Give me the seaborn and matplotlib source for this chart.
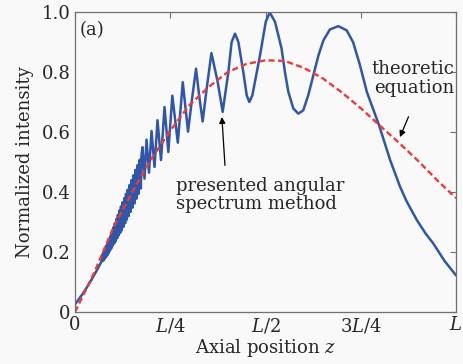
import matplotlib
matplotlib.use('Agg')
import matplotlib.pyplot as plt
import seaborn as sns
import numpy as np

# theoretic equation (red dashed), z in units of L
z_theory = [0, 0.05, 0.1, 0.15, 0.2, 0.25, 0.3, 0.35, 0.4, 0.45, 0.5, 0.55, 0.6, 0.65,
            0.7, 0.75, 0.8, 0.85, 0.9, 0.95, 1.0]
I_theory = [0, 0.13, 0.28, 0.40, 0.51, 0.605, 0.69, 0.75, 0.80, 0.828, 0.84, 0.838, 0.815,
            0.78, 0.733, 0.68, 0.622, 0.565, 0.505, 0.44, 0.38]

# presented angular spectrum method (blue)
z_asm = [0, 0.02, 0.04, 0.06, 0.07,
         0.0718, 0.0736, 0.0754, 0.0772, 0.079, 0.0808, 0.0826, 0.0844, 0.0862, 0.088,
         0.0898, 0.0916, 0.0934, 0.0952, 0.097, 0.0988, 0.1006, 0.1026, 0.1046, 0.1066,
         0.1086, 0.1106, 0.1126, 0.1146, 0.1166, 0.1186, 0.1206, 0.1228, 0.125, 0.1272,
         0.1294, 0.1316, 0.1338, 0.136, 0.1384, 0.1408, 0.1432, 0.1456, 0.148, 0.1506,
         0.1532, 0.1558, 0.1584, 0.1612, 0.164, 0.1668, 0.1698, 0.1728, 0.1745,
         0.1772, 0.1824, 0.1877, 0.1942, 0.2008, 0.2087, 0.2165, 0.2257, 0.2349, 0.2449,
         0.2554, 0.2698, 0.2828, 0.2966, 0.307, 0.3176, 0.326, 0.335, 0.3456, 0.358,
         0.3744, 0.3875, 0.4024, 0.411, 0.42, 0.4287, 0.4418, 0.4506, 0.4575, 0.4654,
         0.4856, 0.5005, 0.511, 0.525, 0.542, 0.551, 0.56, 0.573, 0.586, 0.599, 0.612,
         0.6255, 0.639, 0.652, 0.669, 0.691, 0.713, 0.73, 0.748, 0.766, 0.798, 0.827,
         0.853, 0.87, 0.897, 0.92, 0.94, 0.97, 1.0]
I_asm = [0.025, 0.06, 0.10, 0.145, 0.17,
         0.192, 0.170, 0.200, 0.176, 0.210, 0.182, 0.222, 0.188, 0.232, 0.196,
         0.243, 0.204, 0.254, 0.212, 0.266, 0.221, 0.282, 0.228, 0.296, 0.236,
         0.310, 0.246, 0.324, 0.256, 0.338, 0.264, 0.352, 0.273, 0.366, 0.284,
         0.380, 0.296, 0.394, 0.308, 0.408, 0.320, 0.424, 0.334, 0.440, 0.348,
         0.456, 0.362, 0.474, 0.378, 0.490, 0.394, 0.508, 0.412, 0.525,
         0.550, 0.445, 0.575, 0.465, 0.604, 0.484, 0.640, 0.507, 0.684, 0.534,
         0.722, 0.565, 0.767, 0.602, 0.71, 0.812, 0.72, 0.636, 0.746, 0.864,
         0.768, 0.668, 0.80, 0.901, 0.929, 0.901, 0.80, 0.723, 0.701, 0.723,
         0.857, 0.968, 1.0, 0.968, 0.88, 0.80, 0.734, 0.679, 0.662, 0.673, 0.723,
         0.79, 0.857, 0.907, 0.943, 0.954, 0.94, 0.90, 0.823, 0.734, 0.623, 0.507,
         0.418, 0.37, 0.307, 0.262, 0.229, 0.17, 0.122]

x_ticks = [0, 0.25, 0.5, 0.75, 1.0]
x_ticklabels = ['0', '$L$/4', '$L$/2', '3$L$/4', '$L$']
y_ticks = [0, 0.2, 0.4, 0.6, 0.8, 1.0]
y_ticklabels = ['0', '0.2', '0.4', '0.6', '0.8', '1.0']

sns.set_style('white')
plt.rcParams['font.family'] = ['DejaVu Serif']
plt.rcParams['mathtext.fontset'] = 'dejavuserif'

bg = '#f9f9f9'
fig = plt.figure(figsize=(4.63, 3.64), dpi=100, facecolor=bg)
ax = fig.add_axes([0.162, 0.143, 0.823, 0.823])
ax.set_facecolor(bg)

sns.lineplot(x=z_asm, y=I_asm, ax=ax, color='#2f56aa', lw=1.8, sort=False,
             estimator=None, solid_joinstyle='round', solid_capstyle='round')
sns.lineplot(x=z_theory, y=I_theory, ax=ax, color='#f23a30', lw=1.7, sort=False,
             estimator=None, linestyle=(0, (2.6, 1.4)))

ax.set_xlim(0, 1)
ax.set_ylim(0, 1)
ax.set_xticks(x_ticks)
ax.set_xticklabels(x_ticklabels)
ax.set_yticks(y_ticks)
ax.set_yticklabels(y_ticklabels)
ax.tick_params(direction='in', length=4, width=0.8, color='#707070', labelsize=13,
               top=True, right=True, pad=3)
for s in ax.spines.values():
    s.set_color('#707070')
    s.set_linewidth(0.9)

ax.set_xlabel('Axial position $z$', fontsize=13, labelpad=1)
ax.set_ylabel('Normalized intensity', fontsize=13, labelpad=6)

ax.text(0.013, 0.94, '(a)', transform=ax.transAxes, fontsize=13, va='center', ha='left')

ax.text(0.265, 0.39, 'presented angular\nspectrum method', transform=ax.transAxes,
        fontsize=13, va='center', ha='left', linespacing=1.05)
ax.annotate('', xy=(0.385, 0.66), xytext=(0.394, 0.48),
            arrowprops=dict(arrowstyle='-|>', color='black', lw=0.9, mutation_scale=9))

ax.text(0.995, 0.78, 'theoretic\nequation', transform=ax.transAxes, fontsize=13,
        va='center', ha='right', linespacing=1.05)
ax.annotate('', xy=(0.85, 0.575), xytext=(0.878, 0.66),
            arrowprops=dict(arrowstyle='-|>', color='black', lw=0.9, mutation_scale=9))

fig.savefig('out.png', dpi=100, facecolor=bg)
